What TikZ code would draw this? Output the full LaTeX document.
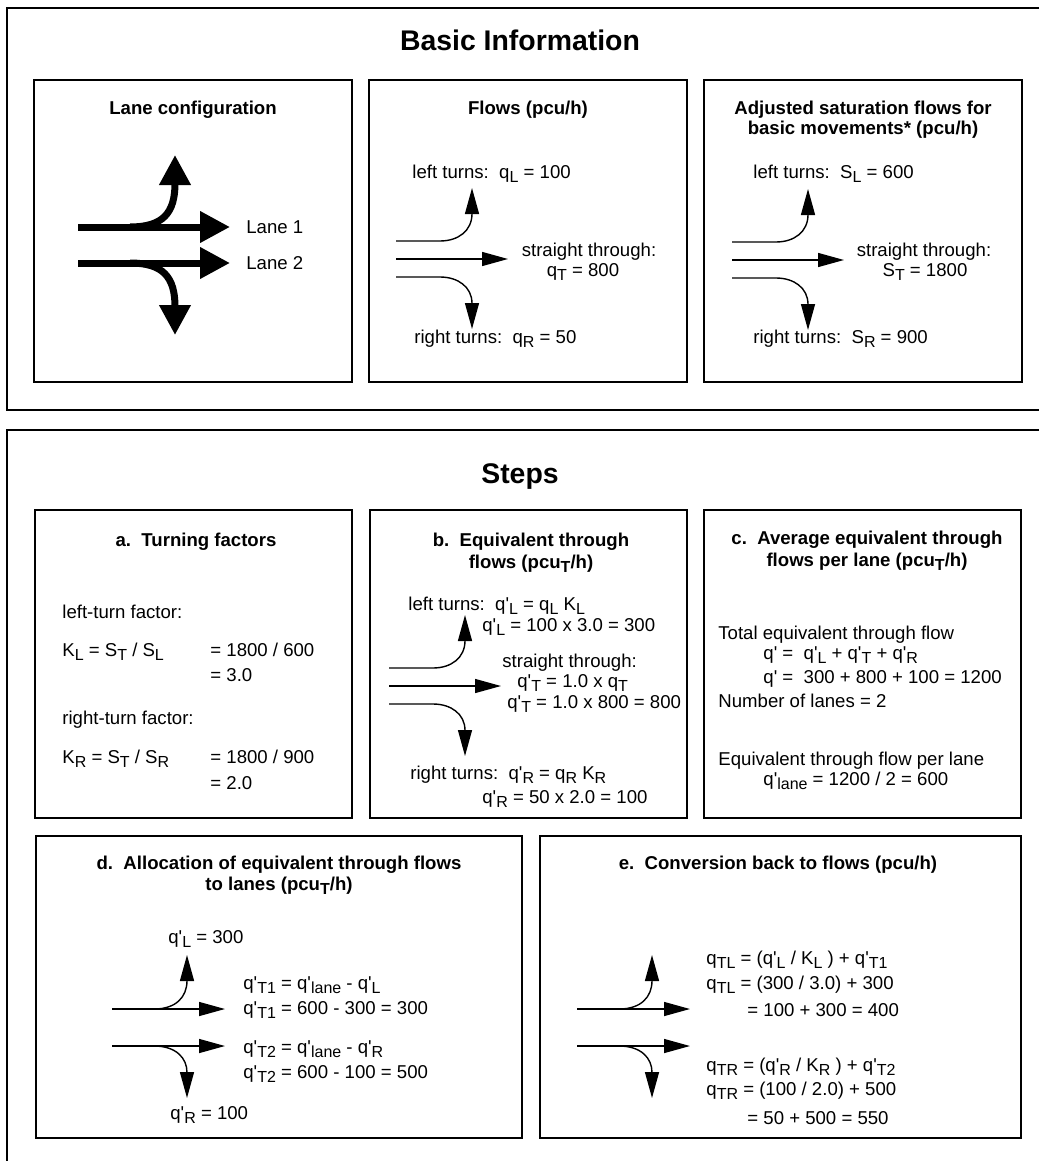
\documentclass[tikz,border=0pt]{standalone}
\usepackage{fontspec}
\setmainfont{Liberation Sans}
\usetikzlibrary{arrows.meta}
\newcommand{\low}[1]{\raisebox{-2pt}{\fontsize{8}{8}\selectfont #1}}
\newcommand{\qp}{q\textquotesingle}

\tikzset{
  outerframe/.style={line width=1.2pt},
  panel/.style={draw, line width=1.3pt},
  bigtitle/.style={font=\fontsize{14.2}{16}\selectfont\bfseries, anchor=base, inner sep=0pt},
  boxtitle/.style={font=\fontsize{9.3}{11}\selectfont\bfseries, anchor=base, inner sep=0pt},
  txt/.style={font=\fontsize{9.3}{11}\selectfont, anchor=base west, inner sep=0pt},
  ctxt/.style={font=\fontsize{9.3}{11}\selectfont, anchor=base, inner sep=0pt},
  flow/.style={line width=0.7pt, -{Triangle[length=13pt,width=7pt]}},
  lane/.style={line width=3.5pt, -{Triangle[length=15pt,width=15pt]}},
  thicklanes/.pic={
    \draw[lane] (0,0) -- (152,0);
    \draw[lane] (0,36) -- (152,36);
    \draw[lane] (52,0) .. controls (85,0) and (97,-14) .. (97,-72);
    \draw[lane] (52,36) .. controls (85,36) and (97,50) .. (97,108);
  },
  threeway/.pic={
    \draw[flow] (0,-18) -- (44,-18) .. controls (62,-18) and (76,-28) .. (76,-71);
    \draw[flow] (0,0) -- (112,0);
    \draw[flow] (0,18) -- (44,18) .. controls (62,18) and (76,28) .. (76,70);
  },
  twolane/.pic={
    \draw[flow] (0,0) -- (113,0);
    \draw[flow] (0,37) -- (113,37);
    \draw[flow] (42,0) .. controls (64,0) and (75,-12) .. (75,-54);
    \draw[flow] (42,37) .. controls (64,37) and (75,49) .. (75,89);
  }
}

\begin{document}
\begin{tikzpicture}[x=0.5pt, y=-0.5pt]
\useasboundingbox (0,0) rectangle (1039,1161);

\draw[outerframe] (1039,8) -- (7,8) -- (7,410) -- (1039,410);
\draw[outerframe] (1039,430) -- (7,430) -- (7,1161);

\node[bigtitle] (basic) at (520,51) {Basic Information};
\node[bigtitle] (steps) at (520,483) {Steps};

\draw[panel] (34,80) rectangle (352,382);
\draw[panel] (369,80) rectangle (687,382);
\draw[panel] (704,80) rectangle (1022,382);
\draw[panel] (35,510) rectangle (352,818);
\draw[panel] (370,510) rectangle (687,818);
\draw[panel] (704,510) rectangle (1021,818);
\draw[panel] (36,836) rectangle (522,1138);
\draw[panel] (540,836) rectangle (1021,1138);

% lane configuration
\node[boxtitle] (lanecfg) at (193,114) {Lane configuration};
\pic (cfg) at (78,227) {thicklanes};
\node[txt] (lane1) at (246,233) {Lane 1};
\node[txt] (lane2) at (246,269) {Lane 2};

% flows
\node[boxtitle] (flows) at (528,114) {Flows (pcu/h)};
\pic (fl) at (396,259) {threeway};
\node[txt] (qL) at (412,178) {left turns:\ \ q\low{L} = 100};
\node[ctxt] (qTa) at (589,256) {straight through:};
\node[ctxt] (qTb) at (583,276) {q\low{T} = 800};
\node[txt] (qR) at (414,343) {right turns:\ \ q\low{R} = 50};

% saturation flows
\node[boxtitle] (sat1) at (863,114) {Adjusted saturation flows for};
\node[boxtitle] (sat2) at (863,134) {basic movements* (pcu/h)};
\pic (sat) at (732,260) {threeway};
\node[txt] (SL) at (753,178) {left turns:\ \ S\low{L} = 600};
\node[ctxt] (STa) at (924,256) {straight through:};
\node[ctxt] (STb) at (925,276) {S\low{T} = 1800};
\node[txt] (SR) at (753,343) {right turns:\ \ S\low{R} = 900};

% a
\node[boxtitle] (ta) at (196,546) {a.\ \ Turning factors};
\node[txt] (a1) at (62,618) {left-turn factor:};
\node[txt] (a2) at (62,656) {K\low{L} = S\low{T} / S\low{L}};
\node[txt] (a3) at (210,656) {= 1800 / 600};
\node[txt] (a4) at (210,681) {= 3.0};
\node[txt] (a5) at (62,724) {right-turn factor:};
\node[txt] (a6) at (62,763) {K\low{R} = S\low{T} / S\low{R}};
\node[txt] (a7) at (210,763) {= 1800 / 900};
\node[txt] (a8) at (210,789) {= 2.0};

% b
\node[boxtitle] (tb1) at (531,546) {b.\ \ Equivalent through};
\node[boxtitle] (tb2) at (531,568) {flows (pcu\low{T}/h)};
\pic (eq) at (389,686) {threeway};
\node[txt] (b1) at (408,610) {left turns:\ \ \qp\low{L} = q\low{L} K\low{L}};
\node[txt] (b2) at (482,631) {\qp\low{L} = 100 x 3.0 = 300};
\node[txt] (b3) at (502,667) {straight through:};
\node[txt] (b4) at (517,687) {\qp\low{T} = 1.0 x q\low{T}};
\node[txt] (b5) at (507,708) {\qp\low{T} = 1.0 x 800 = 800};
\node[txt] (b6) at (410,779) {right turns:\ \ \qp\low{R} = q\low{R} K\low{R}};
\node[txt] (b7) at (482,803) {\qp\low{R} = 50 x 2.0 = 100};

% c
\node[boxtitle] (tc1) at (867,544) {c.\ \ Average equivalent through};
\node[boxtitle] (tc2) at (867,566) {flows per lane (pcu\low{T}/h)};
\node[txt] (c1) at (718,639) {Total equivalent through flow};
\node[txt] (c2) at (763,659) {\qp{} =\ \ \qp\low{L} + \qp\low{T} + \qp\low{R}};
\node[txt] (c3) at (763,683) {\qp{} =\ \ 300 + 800 + 100 = 1200};
\node[txt] (c4) at (718,707) {Number of lanes = 2};
\node[txt] (c5) at (718,765) {Equivalent through flow per lane};
\node[txt] (c6) at (763,785) {\qp\low{lane} = 1200 / 2 = 600};

% d
\node[boxtitle] (td1) at (279,869) {d.\ \ Allocation of equivalent through flows};
\node[boxtitle] (td2) at (279,890) {to lanes (pcu\low{T}/h)};
\pic (alloc) at (112,1009) {twolane};
\node[txt] (d1) at (168,943) {\qp\low{L} = 300};
\node[txt] (d2) at (243,989) {\qp\low{T1} = \qp\low{lane} - \qp\low{L}};
\node[txt] (d3) at (243,1014) {\qp\low{T1} = 600 - 300 = 300};
\node[txt] (d4) at (243,1053) {\qp\low{T2} = \qp\low{lane} - \qp\low{R}};
\node[txt] (d5) at (243,1078) {\qp\low{T2} = 600 - 100 = 500};
\node[txt] (d6) at (170,1119) {\qp\low{R} = 100};

% e
\node[boxtitle] (te) at (778,869) {e.\ \ Conversion back to flows (pcu/h)};
\pic (conv) at (577,1009) {twolane};
\node[txt] (e1) at (706,964) {q\low{TL} = (\qp\low{L} / K\low{L} ) + \qp\low{T1}};
\node[txt] (e2) at (706,989) {q\low{TL} = (300 / 3.0) + 300};
\node[txt] (e3) at (747,1016) {= 100 + 300 = 400};
\node[txt] (e4) at (706,1071) {q\low{TR} = (\qp\low{R} / K\low{R} ) + \qp\low{T2}};
\node[txt] (e5) at (706,1095) {q\low{TR} = (100 / 2.0) + 500};
\node[txt] (e6) at (747,1124) {= 50 + 500 = 550};
\end{tikzpicture}
\end{document}
